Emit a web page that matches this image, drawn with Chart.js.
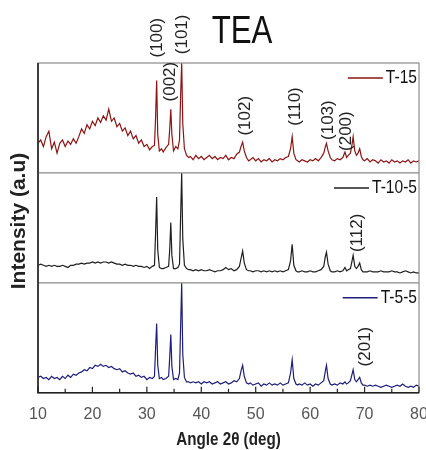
<!DOCTYPE html>
<html>
<head>
<meta charset="utf-8">
<title>TEA XRD</title>
<script src="https://cdn.jsdelivr.net/npm/chart.js@4.4.0/dist/chart.umd.min.js"></script>
<style>
  html, body { margin: 0; padding: 0; background: #fff; }
  #wrap { width: 426px; height: 450px; position: relative; }
</style>
</head>
<body>
<div id="wrap"><canvas id="xrd"></canvas></div>
<script>
// diffraction angle (2 theta, deg) shared by all three patterns
const angles = [
  10,10.5,11,11.5,12,12.5,13,13.5,14,14.5,
  15,15.5,16,16.5,17,17.5,18,18.5,19,19.5,
  20,20.5,21,21.5,22,22.5,23,23.5,24,24.5,
  25,25.5,26,26.5,27,27.5,28,28.5,29,29.5,
  30,30.5,31,
  31.4,31.6,31.8,32.0,32.3,32.7,33.0,33.5,34.0,34.2,34.4,34.6,34.9,35.3,35.7,36.0,36.2,36.4,36.6,36.9,37.3,37.7,
  38,38.5,39,39.5,40,40.5,41,41.5,42,42.5,43,43.5,44,44.5,45,45.5,46,46.5,47,
  47.3,47.6,47.9,48.3,48.7,
  49,49.5,50,50.5,51,51.5,52,52.5,53,53.5,54,54.5,55,55.5,56,
  56.4,56.7,57.0,57.4,57.7,
  58,58.5,59,59.5,60,60.5,61,61.5,62,62.5,
  62.8,63.0,63.3,63.7,
  64,64.5,65,65.5,66,
  66.4,66.7,67.0,67.4,67.7,67.9,68.2,68.5,68.8,69.1,69.4,69.7,
  70,70.5,71,71.5,72,72.5,73,73.5,74,74.5,75,75.5,76,76.5,77,77.5,78,78.5,79,79.5,80
];

// intensities (a.u.), each panel scaled 0..100
const t15 = [
  27,30,24,33,38,22,28,18,27,30,
  24,29,26,31,27,33,40,36,44,40,
  47,43,50,46,52,48,58,47,50,42,
  45,38,41,34,38,31,34,27,30,24,
  26,21,24,
  25,50,84,35,20,22,19,23,26,40,58,35,20,24,22,30,70,100,45,22,16,14,
  15,12,16,13,15,12,14,16,13,15,12,14,13,16,12,14,13,17,19,
  24,28,20,14,11,
  12,14,11,13,10,12,11,13,10,12,11,13,12,14,15,
  22,33,18,12,11,
  10,12,11,10,12,11,13,11,14,18,
  24,27,20,14,
  12,11,13,12,14,
  19,14,16,18,26,33,20,16,18,22,15,12,
  11,13,10,12,11,9,12,10,11,9,12,10,11,9,11,10,12,9,11,10,11
];
const t105 = [
  16,17,16,15,16,15,16,15,15,16,
  15,14,16,16,17,17,18,17,18,18,
  19,18,19,18,19,19,18,19,18,17,
  17,16,17,16,16,15,16,15,15,14,
  15,13,15,
  16,45,78,30,14,13,13,14,15,30,55,25,13,13,14,17,60,100,40,16,13,12,
  12,11,12,11,12,11,11,12,11,10,11,11,12,14,12,13,11,12,15,
  22,29,18,12,11,
  11,10,11,11,10,11,10,11,10,11,10,11,10,11,12,
  20,35,16,11,10,
  10,11,10,10,11,10,10,11,12,15,
  24,28,17,11,
  10,10,11,10,11,
  14,11,12,13,20,25,15,13,15,18,12,10,
  10,10,11,10,10,10,11,10,10,10,11,10,10,9,10,11,10,9,10,9,9
];
const t55 = [
  14,15,13,14,12,15,13,14,12,15,
  13,16,14,17,16,18,19,21,20,23,
  22,25,24,26,24,25,23,24,22,21,
  22,19,20,18,17,18,15,16,14,15,
  12,14,13,
  15,40,63,25,13,14,12,13,15,32,53,24,12,13,12,18,60,100,35,14,10,10,
  9,10,9,10,8,10,9,10,8,9,10,8,9,10,8,9,11,10,13,
  20,25,15,9,8,
  9,7,8,9,6,8,7,9,7,8,7,9,7,8,9,
  18,30,13,8,7,
  8,7,9,7,8,6,8,7,9,11,
  20,25,13,8,
  7,8,7,9,8,
  10,8,9,11,17,21,12,10,12,14,9,7,
  7,6,7,6,7,6,5,6,7,6,5,6,7,6,8,6,5,6,5,7,6
];

const seriesNames = ['T-15', 'T-10-5', 'T-5-5'];
const seriesColors = ['#8c1414', '#1f1f1f', '#1d1d7a'];
const chartTitle = 'TEA';
const xTitle = 'Angle 2θ (deg)';
const yTitle = 'Intensity (a.u)';

const xTicks = [10, 20, 30, 40, 50, 60, 70, 80];
const xMinorTicks = [15, 25, 35, 45, 55, 65, 75];

// Miller index labels: text, angle where drawn, panel, intensity where text starts
const peakLabels = ['(100)', '(002)', '(101)', '(102)', '(110)', '(103)', '(200)', '(112)', '(201)'];
const peakLabelAngles = [31.9, 34.4, 36.5, 48.0, 57.2, 63.3, 66.6, 68.6, 70.1];
const peakLabelPanel = ['yTop', 'yTop', 'yTop', 'yTop', 'yTop', 'yTop', 'yTop', 'yMid', 'yBot'];
const peakLabelBase = [105, 65, 108, 34, 43, 30, 20, 28, 24];

const SANS = "'Liberation Sans', Arial, sans-serif";
const panelIds = ['yTop', 'yMid', 'yBot'];

function pts(vals){ return angles.map((a, i) => ({ x: a, y: vals[i] })); }

// text squeezed horizontally to mimic the narrow face of the original
function narrowText(ctx, txt, x, y, sx){
  ctx.save(); ctx.translate(x, y); ctx.scale(sx, 1); ctx.fillText(txt, 0, 0); ctx.restore();
}

// frame, inward ticks, panel legends, hkl labels, titles
const decor = {
  id: 'decor',
  afterDraw(chart){
    const { ctx, chartArea: ca, scales } = chart;
    const x = scales.x;
    ctx.save();
    ctx.strokeStyle = '#8a8a8a'; ctx.lineWidth = 1.2;
    ctx.strokeRect(ca.left, ca.top, ca.right - ca.left, ca.bottom - ca.top);
    panelIds.slice(1).forEach(id => {
      const t = scales[id].top;
      ctx.beginPath(); ctx.moveTo(ca.left, t); ctx.lineTo(ca.right, t); ctx.stroke();
    });
    ctx.strokeStyle = '#222'; ctx.lineWidth = 1.6;
    ctx.beginPath(); ctx.moveTo(ca.left, ca.top); ctx.lineTo(ca.left, ca.bottom); ctx.lineTo(ca.right, ca.bottom); ctx.stroke();
    ctx.lineWidth = 1.2;
    xTicks.forEach(v => { const px = x.getPixelForValue(v); ctx.beginPath(); ctx.moveTo(px, ca.bottom); ctx.lineTo(px, ca.bottom - 6); ctx.stroke(); });
    xMinorTicks.forEach(v => { const px = x.getPixelForValue(v); ctx.beginPath(); ctx.moveTo(px, ca.bottom); ctx.lineTo(px, ca.bottom - 4); ctx.stroke(); });

    // legends
    ctx.font = '19px ' + SANS; ctx.textBaseline = 'middle'; ctx.textAlign = 'right';
    panelIds.forEach((id, i) => {
      const y = scales[id].top + 15;
      const tx = ca.right - 2;
      const w = ctx.measureText(seriesNames[i]).width * 0.82;
      ctx.fillStyle = '#111'; narrowText(ctx, seriesNames[i], tx, y, 0.82);
      ctx.strokeStyle = seriesColors[i]; ctx.lineWidth = 1.5;
      ctx.beginPath(); ctx.moveTo(tx - w - 38, y); ctx.lineTo(tx - w - 3, y); ctx.stroke();
    });

    // hkl labels
    ctx.font = '17px ' + SANS; ctx.fillStyle = '#222'; ctx.textAlign = 'left'; ctx.textBaseline = 'middle';
    peakLabels.forEach((lab, i) => {
      const px = x.getPixelForValue(peakLabelAngles[i]);
      const py = scales[peakLabelPanel[i]].getPixelForValue(peakLabelBase[i]);
      ctx.save(); ctx.translate(px, py); ctx.rotate(-Math.PI / 2); ctx.fillText(lab, 0, 0); ctx.restore();
    });

    // title
    ctx.font = '39px ' + SANS; ctx.textAlign = 'center'; ctx.textBaseline = 'alphabetic'; ctx.fillStyle = '#111';
    narrowText(ctx, chartTitle, 242, 43, 0.8);

    // x axis title
    ctx.font = 'bold 19px ' + SANS; ctx.textBaseline = 'middle'; ctx.fillStyle = '#222';
    narrowText(ctx, xTitle, (ca.left + ca.right) / 2, 440, 0.8);

    // y axis title
    ctx.font = 'bold 21px ' + SANS; ctx.textBaseline = 'middle'; ctx.fillStyle = '#222';
    ctx.save(); ctx.translate(19, 221); ctx.rotate(-Math.PI / 2);
    ctx.fillText(yTitle, 0, 0); ctx.restore();
    ctx.restore();
  }
};

function panelScale(){
  return {
    type: 'linear', position: 'left', stack: 'xrd', stackWeight: 1,
    min: 0, max: 100,
    ticks: { display: false }, grid: { display: false }, border: { display: false }
  };
}

new Chart(document.getElementById('xrd'), {
  type: 'line',
  data: {
    datasets: [
      { label: seriesNames[0], data: pts(t15), yAxisID: 'yTop', borderColor: seriesColors[0] },
      { label: seriesNames[1], data: pts(t105), yAxisID: 'yMid', borderColor: seriesColors[1] },
      { label: seriesNames[2], data: pts(t55), yAxisID: 'yBot', borderColor: seriesColors[2] }
    ]
  },
  options: {
    responsive: true, maintainAspectRatio: false, animation: false, devicePixelRatio: 1,
    elements: { point: { radius: 0 }, line: { borderWidth: 1.2, tension: 0 } },
    layout: { padding: { top: 63, left: 30, right: 7, bottom: 22 } },
    plugins: { legend: { display: false }, tooltip: { enabled: false } },
    scales: {
      x: {
        type: 'linear', min: 10, max: 80,
        afterFit(s){ s.paddingLeft = 0; s.paddingRight = 0; },
        grid: { display: false }, border: { display: false },
        ticks: { stepSize: 10, autoSkip: false, maxRotation: 0, padding: 4, color: '#555', font: { family: SANS, size: 16 } },
        title: { display: false }
      },
      yBot: panelScale(),
      yMid: panelScale(),
      yTop: panelScale()
    }
  },
  plugins: [decor]
});
</script>
</body>
</html>
